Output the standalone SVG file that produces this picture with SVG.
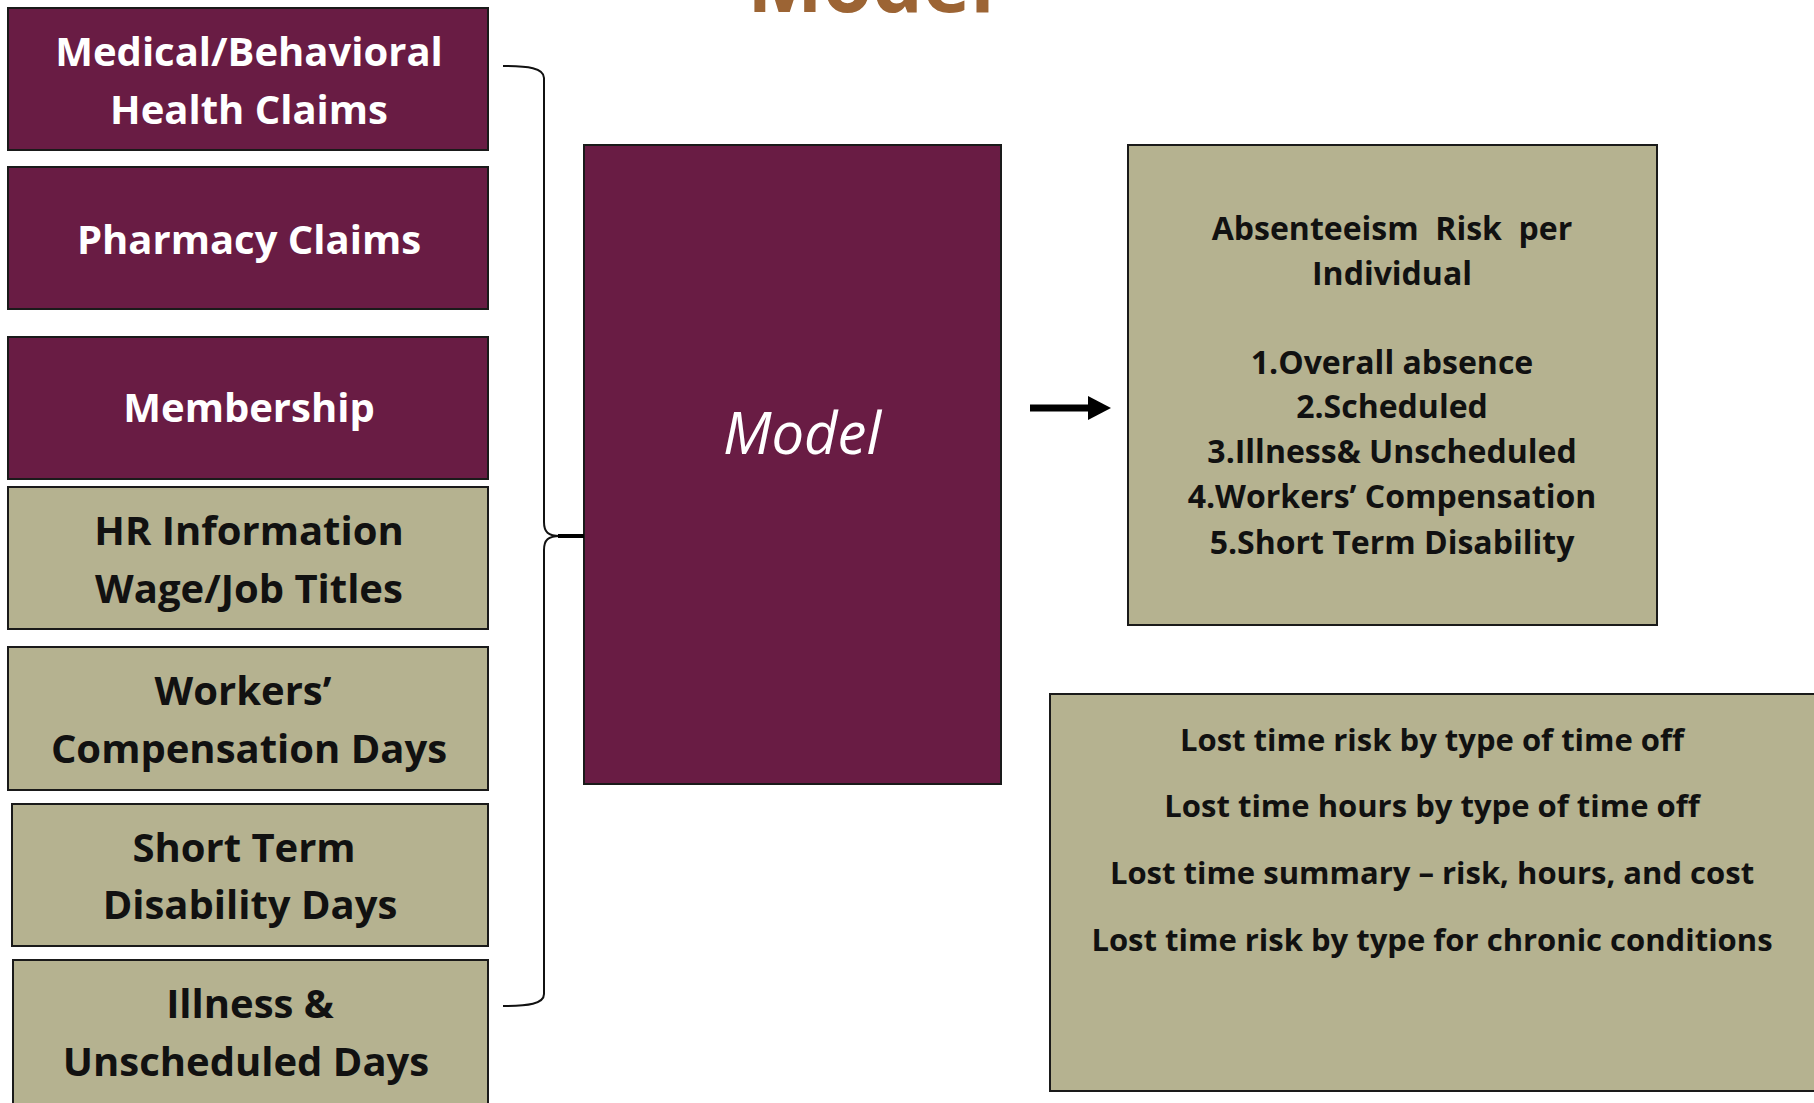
<svg xmlns="http://www.w3.org/2000/svg" width="1814" height="1103" viewBox="0 0 1814 1103">
<style>
.p{fill:#691c44;stroke:#1a1a1a;stroke-width:2}
.t{fill:#b5b290;stroke:#1a1a1a;stroke-width:2}
.lw{font-family:"Open Sans","Liberation Sans",sans-serif;font-weight:700;font-size:40px;fill:#fff;text-anchor:middle}
.lb{font-family:"Open Sans","Liberation Sans",sans-serif;font-weight:700;font-size:40px;fill:#111;text-anchor:middle}
.rb{font-family:"Open Sans","Liberation Sans",sans-serif;font-weight:700;font-size:32px;fill:#111;text-anchor:middle}
.rc{font-family:"Open Sans","Liberation Sans",sans-serif;font-weight:700;font-size:31px;fill:#111;text-anchor:middle}
.br{fill:none;stroke:#111;stroke-width:2}
</style>
<defs>
<marker id="ah" markerUnits="userSpaceOnUse" markerWidth="24" markerHeight="26" refX="0" refY="13" orient="auto">
<path d="M0,1 L23,13 L0,25 Z" fill="#000"/>
</marker>
</defs>
<rect width="1814" height="1103" fill="#fff"/>
<text x="871" y="12" font-family="Open Sans, Liberation Sans, sans-serif" font-weight="700" font-size="80" fill="#9c6434" text-anchor="middle">Model</text>

<g id="n-medical"><rect class="p" x="8" y="8" width="480" height="142"/><text class="lw" x="249" y="66">Medical/Behavioral</text><text class="lw" x="249" y="124">Health Claims</text></g>
<g id="n-pharmacy"><rect class="p" x="8" y="167" width="480" height="142"/><text class="lw" x="249" y="254">Pharmacy Claims</text></g>
<g id="n-membership"><rect class="p" x="8" y="337" width="480" height="142"/><text class="lw" x="249" y="422">Membership</text></g>
<g id="n-hr"><rect class="t" x="8" y="487" width="480" height="142"/><text class="lb" x="249" y="545">HR Information</text><text class="lb" x="249" y="603">Wage/Job Titles</text></g>
<g id="n-workers"><rect class="t" x="8" y="647" width="480" height="143"/><text class="lb" x="243" y="705">Workers’</text><text class="lb" x="249" y="763">Compensation Days</text></g>
<g id="n-std"><rect class="t" x="12" y="804" width="476" height="142"/><text class="lb" x="244" y="862">Short Term</text><text class="lb" x="250" y="919">Disability Days</text></g>
<g id="n-illness"><rect class="t" x="13" y="960" width="475" height="160"/><text class="lb" x="250" y="1018">Illness &amp;</text><text class="lb" x="246" y="1076">Unscheduled Days</text></g>

<g id="n-model"><rect class="p" x="584" y="145" width="417" height="639"/><text x="802" y="454" font-family="Open Sans, Liberation Sans, sans-serif" font-style="italic" font-size="58" fill="#fff" text-anchor="middle">Model</text></g>

<g id="n-risk"><rect class="t" x="1128" y="145" width="529" height="480"/>
<text class="rb" x="1392" y="240" xml:space="preserve" style="white-space:pre">Absenteeism  Risk  per</text>
<text class="rb" x="1392" y="285">Individual</text>
<text class="rb" x="1392" y="374">1.Overall absence</text>
<text class="rb" x="1392" y="418">2.Scheduled</text>
<text class="rb" x="1392" y="463">3.Illness&amp; Unscheduled</text>
<text class="rb" x="1392" y="508">4.Workers’ Compensation</text>
<text class="rb" x="1392" y="554">5.Short Term Disability</text>
</g>

<g id="n-lost"><rect class="t" x="1050" y="694" width="790" height="397"/>
<text class="rc" x="1432" y="751">Lost time risk by type of time off</text>
<text class="rc" x="1432" y="817">Lost time hours by type of time off</text>
<text class="rc" x="1432" y="884">Lost time summary – risk, hours, and cost</text>
<text class="rc" x="1432" y="951">Lost time risk by type for chronic conditions</text>
</g>

<g id="connectors">
<path class="br" d="M503,66 C528,66 544,68 544,78 L544,522 C544,532 548,536 560,536 C548,536 544,540 544,550 L544,994 C544,1004 528,1006 503,1006"/>
<line x1="558" y1="536" x2="584" y2="536" stroke="#000" stroke-width="4"/>
<line x1="1030" y1="408" x2="1088" y2="408" stroke="#000" stroke-width="7" marker-end="url(#ah)"/>
</g>
</svg>
